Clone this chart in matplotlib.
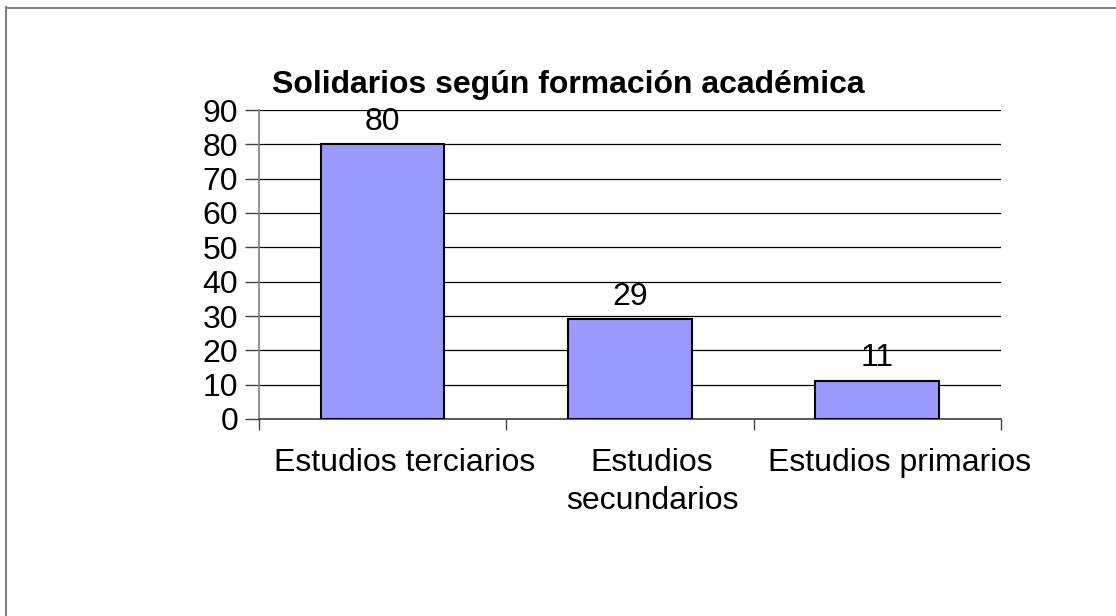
import matplotlib
matplotlib.use("Agg")
import matplotlib.pyplot as plt
from matplotlib.lines import Line2D
import matplotlib.transforms as mtransforms

categories = ["Estudios terciarios", "Estudios\nsecundarios", "Estudios primarios"]
values = [80, 29, 11]
yticks = [0, 10, 20, 30, 40, 50, 60, 70, 80, 90]
title = "Solidarios según formación académica"

plt.rcParams['font.family'] = ['Liberation Sans', 'DejaVu Sans']

W, H = 1116, 616
fig = plt.figure(figsize=(W / 100, H / 100), dpi=100)
# outer border (left and top visible)
fig.add_artist(Line2D([5.5 / W, 5.5 / W], [0, 1 - 7 / H], transform=fig.transFigure, color='#808080', lw=1.5))
fig.add_artist(Line2D([5.5 / W, 1], [1 - 7.5 / H, 1 - 7.5 / H], transform=fig.transFigure, color='#808080', lw=1.5))

x0, x1, y0, y1 = 259, 1001, 110, 419
ax = fig.add_axes([x0 / W, 1 - y1 / H, (x1 - x0) / W, (y1 - y0) / H])

pos = list(range(len(categories)))
ax.bar(pos, values, width=0.5, color='#9999FF', edgecolor='black', linewidth=1.5, zorder=3)
ax.set_xlim(-0.5, len(categories) - 0.5)
ax.set_ylim(0, 90)
ax.set_yticks(yticks)
ax.set_yticklabels([str(t) for t in yticks], fontsize=23)
ax.yaxis.grid(True, color='black', linewidth=0.9, zorder=0)
ax.set_axisbelow(True)

for s in ['top', 'right']:
    ax.spines[s].set_visible(False)
ax.spines['left'].set_color('#808080')
ax.spines['bottom'].set_color('#404040')
ax.spines['left'].set_linewidth(1.2)
ax.spines['bottom'].set_linewidth(1.2)

ax.tick_params(axis='y', length=10, width=1, color='#404040', pad=5)
# category boundary ticks
ax.set_xticks([p - 0.5 for p in pos] + [pos[-1] + 0.5])
ax.set_xticklabels([])
ax.tick_params(axis='x', length=8, width=1, color='#404040')
label_tr = ax.transData + mtransforms.ScaledTranslation(22 / 100, 0, fig.dpi_scale_trans)
for p, c in zip(pos, categories):
    ax.text(p, -8.5, c, ha='center', va='top', fontsize=23, linespacing=1.32,
            transform=label_tr)

for p, v in zip(pos, values):
    ax.text(p, v + 4.3, str(v), ha='center', va='baseline', fontsize=23)

fig.text(272 / W, 1 - 93 / H, title, ha='left', va='baseline', fontsize=23, fontweight='bold')

fig.savefig("out.png", dpi=100)
